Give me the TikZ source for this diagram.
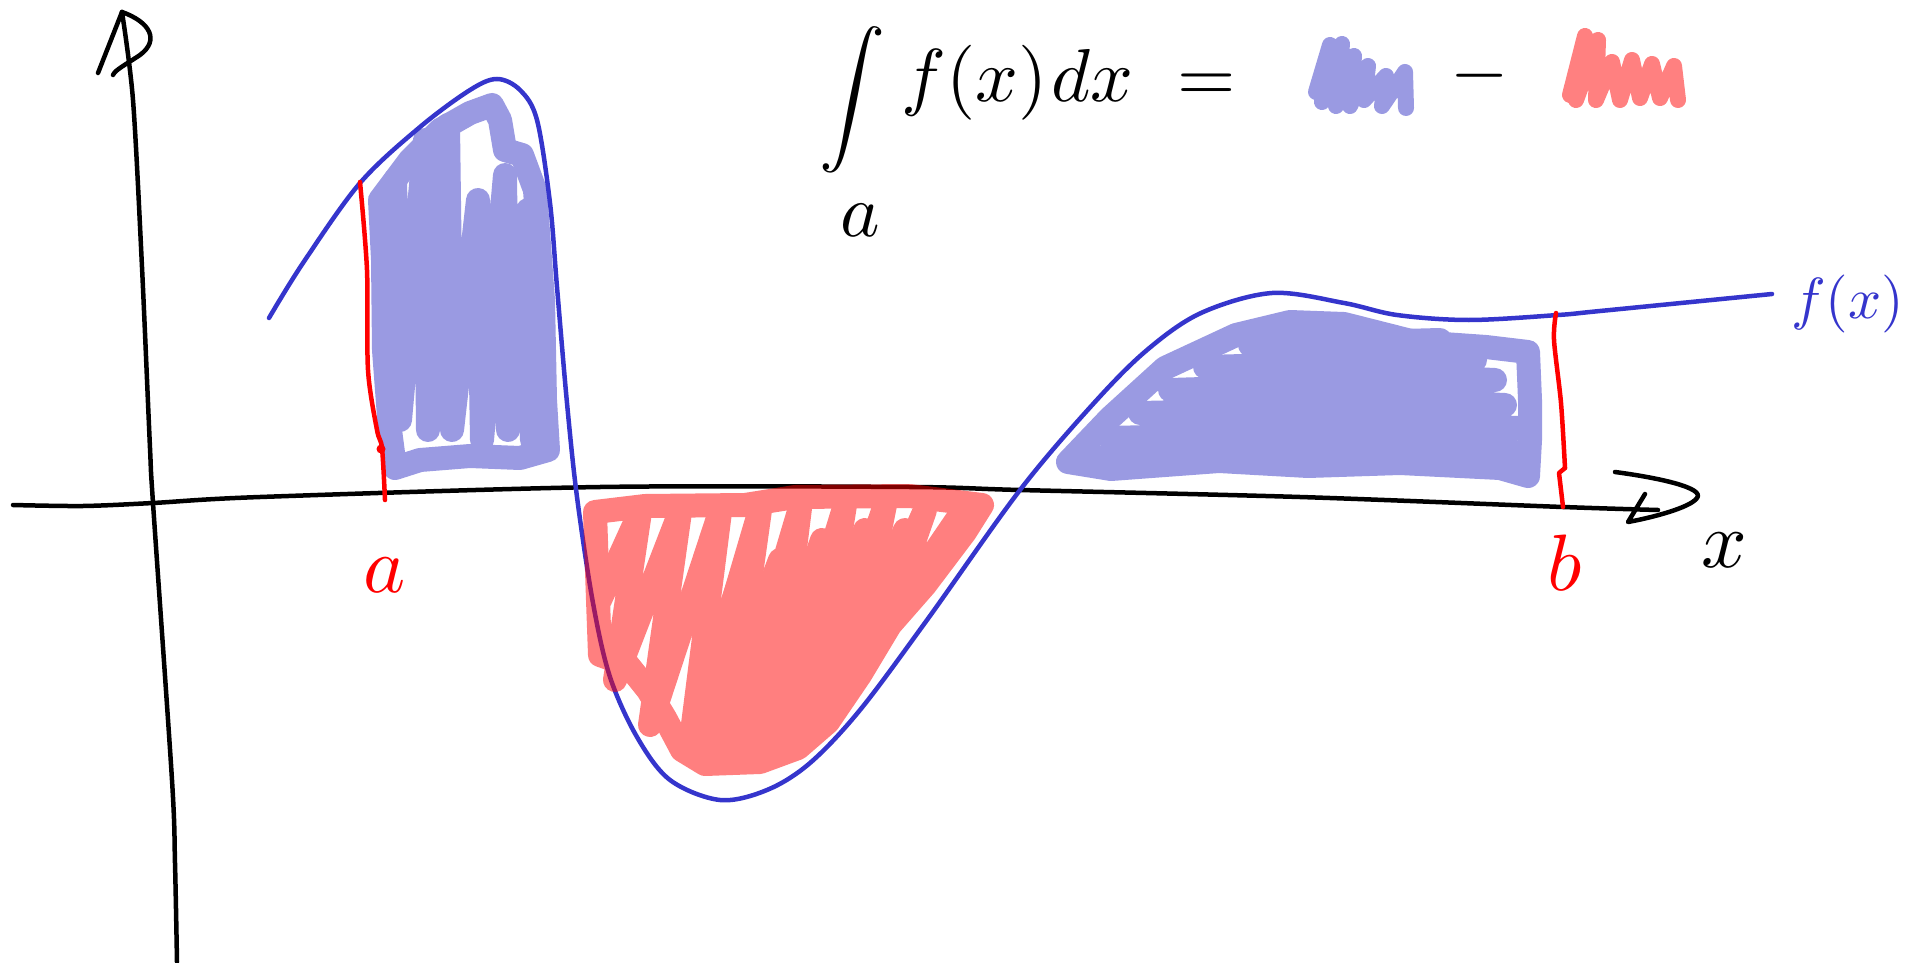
\documentclass[tikz,border=0pt]{standalone}
\definecolor{penblue}{RGB}{53,53,204}
\definecolor{blobblue}{RGB}{154,154,226}
\definecolor{blobred}{RGB}{255,128,128}
\definecolor{penred}{RGB}{255,0,0}
\tikzset{
 axis/.style={line width=4.5pt, line cap=round, line join=round, black},
 fcurve/.style={line width=4.5pt, line cap=round, penblue},
 bound/.style={line width=4.5pt, line cap=round, line join=round, penred},
 bblob/.style={line width=24pt, line cap=round, line join=round, blobblue},
 rblob/.style={line width=24pt, line cap=round, line join=round, red},
 mblob/.style={line width=16pt, line cap=round, line join=round},
 lbl/.style={inner sep=0pt, scale=8},
 eq/.style={inner sep=0pt, scale=7.5},
}
\begin{document}
\begin{tikzpicture}[x=1pt,y=-1pt]
\useasboundingbox (0,0) rectangle (1917,963);
% left blue blob
\draw[bblob] (380,200) -- (410,160) -- (440,130) -- (470,113) -- (492,105) -- (500,120) -- (505,150) -- (522,155) -- (535,190) -- (543,300) -- (545,400) -- (548,450) -- (520,458) -- (470,456) -- (420,460) -- (395,468) -- (390,430) -- (384,350) -- (383,260) -- cycle;
\draw[bblob] (395,180) -- (400,420) -- (425,140) -- (428,430) -- (448,125) -- (452,430) -- (478,200) -- (482,440) -- (505,175) -- (508,430) -- (528,210) -- (532,440);
% right blue blob
\draw[bblob] (1068,462) -- (1110,418) -- (1165,368) -- (1236,335) -- (1290,322) -- (1344,324) -- (1415,342) -- (1486,347) -- (1528,352) -- (1530,400) -- (1530,440) -- (1528,476) -- (1500,468) -- (1400,463) -- (1308,466) -- (1219,461) -- (1111,469) -- cycle;
\draw[bblob] (1080,458) -- (1515,452) -- (1110,438) -- (1518,428) -- (1140,413) -- (1505,405) -- (1170,390) -- (1495,380) -- (1205,367) -- (1475,360) -- (1250,345) -- (1440,340);
% axes
\draw[axis] plot[smooth] coordinates {(177,962) (175,863) (172,780) (153,503) (150,448) (142,267) (133,100) (122,12)};
\draw[axis] (122,12) -- (98,73);
\draw[axis] (122,12) .. controls (150,22) and (160,40) .. (140,55) .. controls (125,65) and (115,70) .. (113,75);
\draw[axis] plot[smooth] coordinates {(13,505) (83,506) (153,503) (260,497) (600,487) (910,487) (1020,490) (1300,497) (1563,507) (1658,510)};
\draw[axis] (1615,472) .. controls (1660,478) and (1705,488) .. (1697,498) .. controls (1690,508) and (1650,518) .. (1628,522) -- (1645,494);
% f(x)
\draw[fcurve] plot[smooth, tension=0.55] coordinates {(269,318) (303,263) (360,183) (420,127) (470,90) (497,79) (520,90) (537,120) (550,203) (557,287) (567,403) (577,497) (593,603) (610,677) (637,737) (670,780) (720,800) (767,790) (810,763) (860,710) (927,620) (1020,490) (1094,403) (1147,350) (1201,313) (1272,293) (1344,303) (1397,315) (1469,320) (1558,315) (1600,311) (1772,294)};
% bounds
\draw[bound] plot[smooth] coordinates {(360,182) (367,270) (368,370) (377,430) (382,448) (385,500)};
\fill[penred] (381,449) circle (4.5);
\draw[bound] plot[smooth] coordinates {(1556,313) (1554,340) (1561,403) (1565,468)};
\draw[bound] (1565,468) -- (1559,473) -- (1563,507);
% red blob
\begin{scope}[transparency group, opacity=0.5]
\draw[rblob] (595,512) -- (645,506) -- (745,505) -- (795,497) -- (910,496) -- (982,505) -- (965,532) -- (925,585) -- (890,625) -- (860,675) -- (828,722) -- (798,748) -- (760,762) -- (705,764) -- (682,750) -- (665,718) -- (648,690) -- (628,665) -- (600,655) -- (598,600) -- cycle;
\draw[rblob] (600,600) -- (640,512) -- (615,680) -- (680,512) -- (650,725) -- (720,512) -- (690,748) -- (760,510) -- (725,760) -- (800,508) -- (770,750) -- (845,505) -- (810,725) -- (885,505) -- (850,680) -- (925,510) -- (885,625) -- (960,515);
\draw[rblob] (700,700) -- (740,580) -- (710,745) -- (780,560) -- (748,758) -- (822,540) -- (790,740) -- (865,530) -- (830,705) -- (905,530);
\end{scope}
% labels
\node[lbl, text=penred] (la) at (385,575) {$a$};
\node[lbl, text=penred] (lb) at (1565,563) {$b$};
\node[lbl] (lx) at (1724,550) {$x$};
\node[inner sep=0pt, scale=5.8, text=penblue, anchor=base west] (lf) at (1790,318) {$f(x)$};
% formula
\node[inner sep=0pt, scale=6.6] (int) at (852,100) {$\displaystyle\int$};
\node[eq] (lim) at (860,220) {$a$};
\node[eq, anchor=base west] (fx) at (900,102) {$f(x)$};
\node[eq, anchor=base west] (dx) at (1050,102) {$dx$};
\node[eq, anchor=base west] (eqs) at (1176,102) {$=$};
\draw[mblob, blobblue] (1316,92) -- (1330,45) -- (1322,102) -- (1342,44) -- (1336,106) -- (1354,56) -- (1350,106) -- (1368,66) -- (1364,100) -- (1386,76) -- (1382,106) -- (1405,72) -- (1406,108);
\node[eq, anchor=base west] (minus) at (1449,95) {$-$};
\draw[mblob, blobred] (1570,95) -- (1585,36) -- (1576,100) -- (1598,40) -- (1596,100) -- (1612,62) -- (1620,100) -- (1632,60) -- (1640,98) -- (1652,64) -- (1660,98) -- (1674,66) -- (1678,100);
\end{tikzpicture}
\end{document}
